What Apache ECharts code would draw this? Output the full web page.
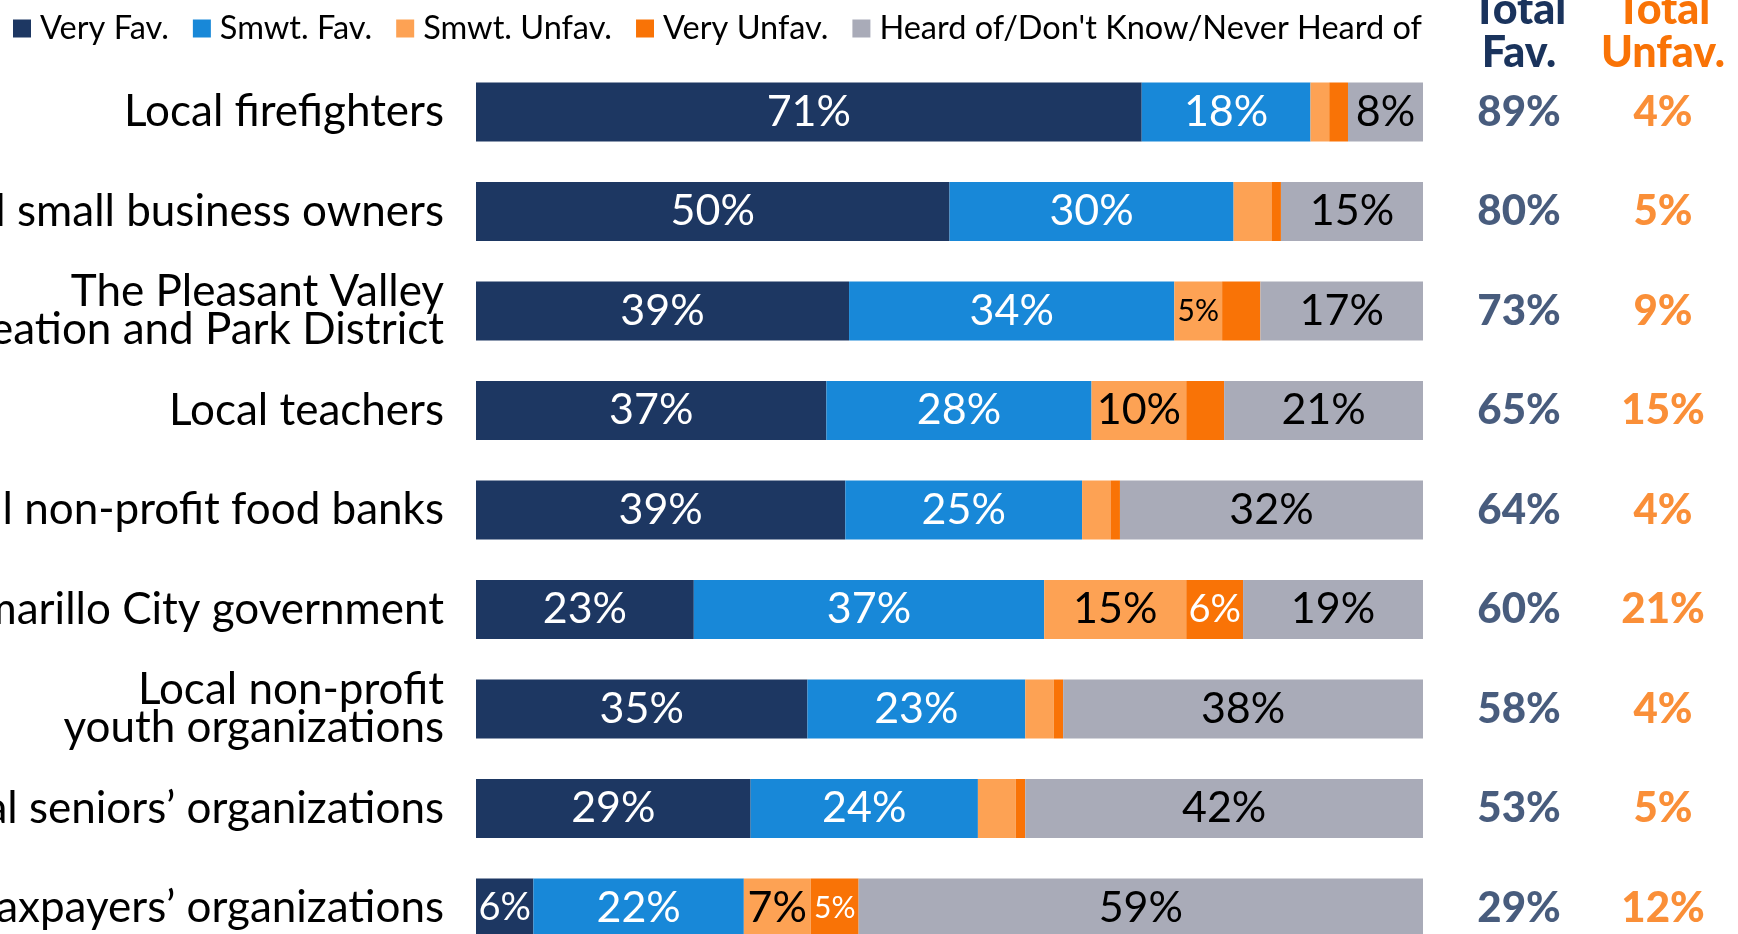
<!DOCTYPE html>
<html>
<head>
<meta charset="utf-8">
<script src="https://cdn.jsdelivr.net/npm/echarts@6/dist/echarts.min.js"></script>
<style>
  html, body { margin: 0; padding: 0; background: #fff; overflow: hidden; }
  #main { width: 1738px; height: 960px; }
</style>
</head>
<body>
<div id="main"></div>
<script>
// categories (top to bottom)
const groups = [
  "Local firefighters",
  "Local small business owners",
  "The Pleasant Valley\nRecreation and Park District",
  "Local teachers",
  "Local non-profit food banks",
  "Camarillo City government",
  "Local non-profit\nyouth organizations",
  "Local seniors\u2019 organizations",
  "Local taxpayers\u2019 organizations"
];
const seriesNames = ["Very Fav.", "Smwt. Fav.", "Smwt. Unfav.", "Very Unfav.", "Heard of/Don't Know/Never Heard of"];

const veryFav   = [71, 50, 39, 37, 39, 23, 35, 29, 6];
const smwtFav   = [18, 30, 34, 28, 25, 37, 23, 24, 22];
const smwtUnfav = [2, 4, 5, 10, 3, 15, 3, 4, 7];
const veryUnfav = [2, 1, 4, 4, 1, 6, 1, 1, 5];
const heardOf   = [8, 15, 17, 21, 32, 19, 38, 42, 59];

const totalFav   = [89, 80, 73, 65, 64, 60, 58, 53, 29];
const totalUnfav = [4, 5, 9, 15, 4, 21, 4, 5, 12];

const colors = ["#1D3762", "#1888D8", "#FDA254", "#F97306", "#A9ABB8"];
const labelColors = ["#fff", "#fff", "#000", "#fff", "#000"];
const navy = "#1A335C";
const orange = "#F97306";
const FONT = "Lato";

const allRows = [veryFav, smwtFav, smwtUnfav, veryUnfav, heardOf];
const rowSum = groups.map((g, i) => allRows.reduce((s, a) => s + a[i], 0));

// smaller text in narrow segments
function sizeFor(v) {
  if (v <= 5) return 30;
  if (v <= 6) return 38;
  return 43;
}

const barSeries = allRows.map((arr, k) => ({
  name: seriesNames[k],
  type: "bar",
  stack: "all",
  barWidth: 59,
  xAxisIndex: 0,
  yAxisIndex: 0,
  itemStyle: { color: colors[k] },
  label: {
    show: true,
    position: "inside",
    color: labelColors[k],
    fontFamily: FONT,
    formatter: p => p.data.raw >= 5 ? p.data.raw + "%" : ""
  },
  data: arr.map((v, i) => ({
    value: v / rowSum[i] * 100,
    raw: v,
    label: { fontSize: sizeFor(v) }
  }))
}));

const totalSeries = [totalFav, totalUnfav].map((arr, k) => ({
  type: "scatter",
  xAxisIndex: 1,
  yAxisIndex: 1,
  symbolSize: 1,
  itemStyle: { color: "transparent" },
  label: {
    show: true,
    position: "inside",
    fontFamily: FONT,
    fontWeight: 900,
    fontSize: 42,
    color: k === 0 ? navy : orange,
    formatter: p => p.data[2] + "%"
  },
  data: arr.map((v, i) => [k, i, v])
}));

const chart = echarts.init(document.getElementById("main"));
chart.setOption({
  animation: false,
  textStyle: { fontFamily: FONT },
  legend: {
    data: seriesNames,
    left: 13,
    top: 12,
    padding: 0,
    itemWidth: 18,
    itemHeight: 18,
    itemGap: 24,
    icon: "rect",
    textStyle: { fontFamily: FONT, fontSize: 32.5, color: "#000", lineHeight: 32, padding: [0, 0, 0, 4] }
  },
  grid: [
    { left: 476, width: 947, top: 62.25, height: 895.5, outerBoundsMode: "none", containLabel: false },
    { left: 1447, width: 288, top: 62.25, height: 895.5, outerBoundsMode: "none", containLabel: false }
  ],
  xAxis: [
    { type: "value", min: 0, max: 100, show: false, gridIndex: 0 },
    { type: "category", data: ["fav", "unfav"], show: false, gridIndex: 1 }
  ],
  yAxis: [
    {
      type: "category",
      data: groups,
      inverse: true,
      gridIndex: 0,
      axisLine: { show: false },
      axisTick: { show: false },
      axisLabel: {
        fontFamily: FONT, fontSize: 44, color: "#000", margin: 32, lineHeight: 38, align: "right",
        padding: [0, 0, 18, 0]
      }
    },
    { type: "category", data: groups, inverse: true, gridIndex: 1, show: false }
  ],
  graphic: [
    {
      type: "text", x: 1519, y: 32,
      style: { text: "Total\nFav.", fill: navy, font: "900 43px Lato", lineHeight: 43, align: "center", verticalAlign: "middle" }
    },
    {
      type: "text", x: 1663, y: 32,
      style: { text: "Total\nUnfav.", fill: orange, font: "900 43px Lato", lineHeight: 43, align: "center", verticalAlign: "middle" }
    }
  ],
  series: barSeries.concat(totalSeries)
});
</script>
</body>
</html>
